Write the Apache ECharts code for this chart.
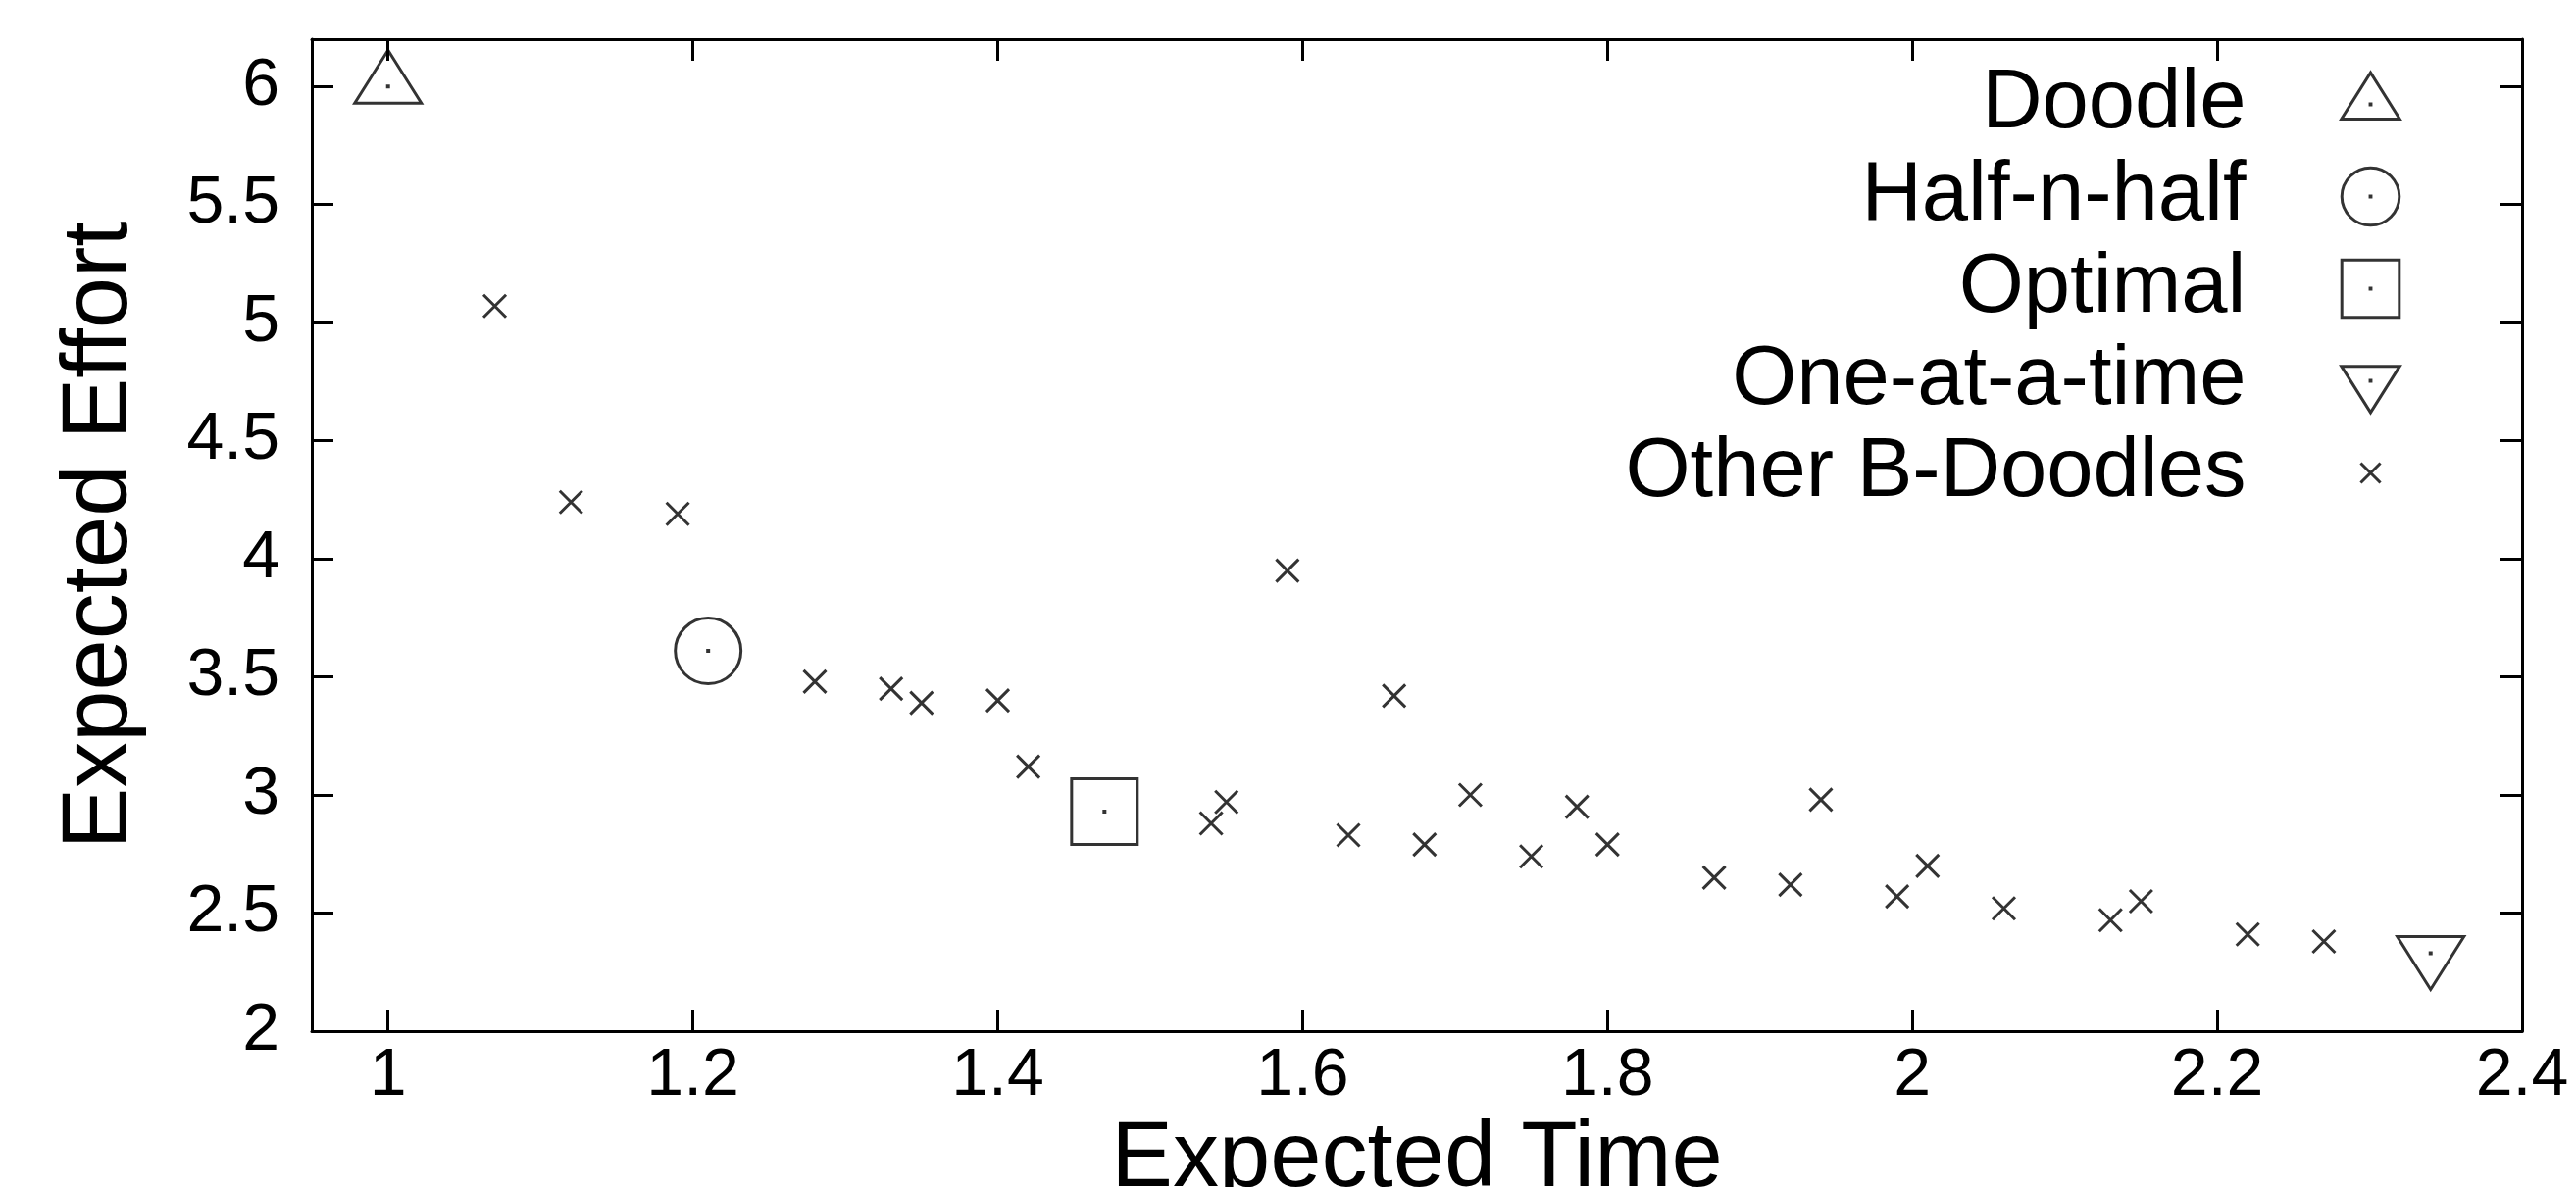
<!DOCTYPE html>
<html><head><meta charset="utf-8">
<script src="https://cdn.jsdelivr.net/npm/echarts@6/dist/echarts.min.js"></script>
<style>html,body{margin:0;padding:0;background:#fff}#c{width:2627px;height:1211px}</style>
</head><body><div id="c"></div>
<script>
// ---- data ----
const doodleX = [1.00];  const doodleY = [6.00];
const halfX = [1.21];    const halfY = [3.61];
const optimalX = [1.47]; const optimalY = [2.93];
const oneX = [2.34];     const oneY = [2.33];
const otherX = [1.07,1.12,1.19,1.28,1.33,1.35,1.40,1.42,1.54,1.55,1.59,1.63,1.66,1.68,1.71,1.75,1.78,1.80,1.87,1.92,1.94,1.99,2.01,2.06,2.13,2.15,2.22,2.27];
const otherY = [5.07,4.24,4.19,3.48,3.45,3.39,3.40,3.12,2.88,2.97,3.95,2.83,3.42,2.79,3.00,2.74,2.95,2.79,2.65,2.62,2.98,2.57,2.70,2.52,2.47,2.55,2.41,2.38];
const xTicks = [1, 1.2, 1.4, 1.6, 1.8, 2, 2.2, 2.4];
const yTicks = [2, 2.5, 3, 3.5, 4, 4.5, 5, 5.5, 6];
const seriesNames = ['Doodle', 'Half-n-half', 'Optimal', 'One-at-a-time', 'Other B-Doodles'];

// ---- symbols (80x80 box, centre = data point) ----
const PAD = 'M0 0 M80 80 ';
const DOT = ' M39.5 39.5 L40.5 39.5 L40.5 40.5 L39.5 40.5 Z';
const symTri = 'path://' + PAD + 'M40 3 L74 57 L6 57 Z' + DOT;
const symCirc = 'path://' + PAD + 'M6.5 40 A33.5 33.5 0 1 1 73.5 40 A33.5 33.5 0 1 1 6.5 40 Z' + DOT;
const symSq = 'path://' + PAD + 'M6.5 6.5 L73.5 6.5 L73.5 73.5 L6.5 73.5 Z' + DOT;
const symInv = 'path://' + PAD + 'M40 77 L74 23 L6 23 Z' + DOT;
const symX = 'path://' + PAD + 'M28.5 28.5 L51.5 51.5 M51.5 28.5 L28.5 51.5';
const symbols = [symTri, symCirc, symSq, symInv, symX];

const zip = (xs, ys) => xs.map((x, i) => [x, ys[i]]);
const datasets = [zip(doodleX, doodleY), zip(halfX, halfY), zip(optimalX, optimalY), zip(oneX, oneY), zip(otherX, otherY)];

const FONT = 'Liberation Sans, Arial, Helvetica, sans-serif';
const axisLine = {show: true, onZero: false, lineStyle: {color: '#000', width: 3}};

const chart = echarts.init(document.getElementById('c'), null, {renderer: 'canvas'});
chart.setOption({
  animation: false,
  backgroundColor: '#fff',
  grid: {left: 318, right: 55, top: 40, bottom: 159, containLabel: false, outerBoundsMode: 'none'},
  xAxis: [{
    type: 'value', min: 0.95, max: 2.4, position: 'bottom',
    axisLine: axisLine,
    axisTick: {show: true, inside: true, length: 22, lineStyle: {color: '#000', width: 3}, customValues: xTicks},
    axisLabel: {show: true, customValues: xTicks, fontSize: 68, color: '#000', fontFamily: FONT, margin: 12},
    splitLine: {show: false},
    name: 'Expected Time', nameLocation: 'middle', nameGap: 45,
    nameTextStyle: {fontSize: 94, color: '#000', fontFamily: FONT}
  }, {
    type: 'value', min: 0.95, max: 2.4, position: 'top',
    axisLine: axisLine,
    axisTick: {show: true, inside: true, length: 22, lineStyle: {color: '#000', width: 3}, customValues: xTicks},
    axisLabel: {show: false}, splitLine: {show: false}
  }],
  yAxis: [{
    type: 'value', min: 2, max: 6.2, position: 'left',
    axisLine: axisLine,
    axisTick: {show: true, inside: true, length: 22, lineStyle: {color: '#000', width: 3}, customValues: yTicks},
    axisLabel: {show: true, customValues: yTicks, fontSize: 68, color: '#000', fontFamily: FONT, margin: 33},
    splitLine: {show: false},
    name: 'Expected Effort', nameLocation: 'middle', nameGap: 168, nameRotate: 90,
    nameTextStyle: {fontSize: 94, color: '#000', fontFamily: FONT}
  }, {
    type: 'value', min: 2, max: 6.2, position: 'right',
    axisLine: axisLine,
    axisTick: {show: true, inside: true, length: 22, lineStyle: {color: '#000', width: 3}, customValues: yTicks},
    axisLabel: {show: false}, splitLine: {show: false}
  }],
  legend: {
    orient: 'vertical', right: 173, top: 64, align: 'right', padding: 0,
    itemWidth: 244, itemHeight: 70, itemGap: 9, selectedMode: false,
    symbolKeepAspect: true,
    itemStyle: {color: 'rgba(0,0,0,0)', borderColor: '#000', borderWidth: 3},
    textStyle: {fontSize: 85, color: '#000', fontFamily: FONT, lineHeight: 70},
    data: seriesNames.map((n, i) => ({name: n, icon: symbols[i]}))
  },
  series: seriesNames.map((n, i) => ({
    name: n, type: 'scatter', xAxisIndex: 0, yAxisIndex: 0,
    data: datasets[i], symbol: symbols[i], symbolSize: 80, symbolKeepAspect: true,
    itemStyle: {color: 'rgba(0,0,0,0)', borderColor: '#000', borderWidth: 3},
    emphasis: {disabled: true}, silent: true
  }))
});
</script></body></html>
